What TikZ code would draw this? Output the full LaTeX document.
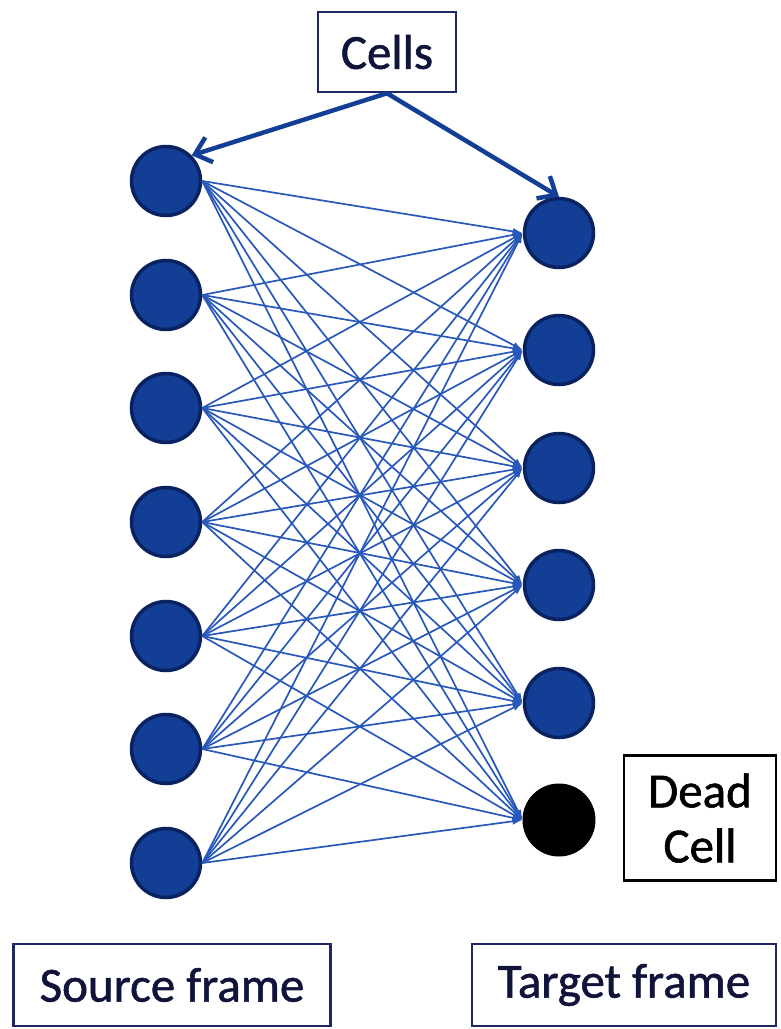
\documentclass[tikz,border=0pt]{standalone}
\usepackage{fontspec}
\setmainfont{Carlito}
\newfontface\lblfont{Carlito}[FakeBold=1.2]
\usepackage{tikz}
\usetikzlibrary{arrows.meta}
\usetikzlibrary{positioning}
\definecolor{cellblue}{RGB}{18,62,150}
\definecolor{celledge}{RGB}{10,34,95}
\definecolor{linkblue}{RGB}{40,88,185}
\definecolor{boxedge}{RGB}{30,40,100}
\definecolor{labeltext}{RGB}{16,20,58}
\tikzset{>=latex}
\tikzstyle{cell} = [circle, draw = celledge, fill = cellblue, line width = 3.5pt, minimum size = 69pt, inner sep = 0]
\tikzstyle{deadcell} = [circle, draw = black, fill = black, line width = 1pt, minimum size = 72pt, inner sep = 0]
\tikzstyle{lbl} = [rectangle, draw = boxedge, line width = 2.5pt, text = labeltext, font = \lblfont\fontsize{49}{55}\selectfont, align = center, inner sep = 0]
\tikzstyle{link} = [-{Latex[length = 10pt, width = 7pt]}, draw = linkblue, line width = 1.7pt]
\tikzstyle{point} = [-{Straight Barb[length = 15pt, width = 26pt, line width = 4.5pt]}, draw = cellblue, line width = 4.5pt]

\begin{document}
\begin{tikzpicture}[x = 1pt, y = -1pt]
\useasboundingbox (0, 0) rectangle (780, 1029);
% source frame cells
\foreach \i/\y in {1/181, 2/295, 3/408, 4/522, 5/636, 6/749, 7/863}
  \node [cell] (s\i) at (166, \y) {};
% target frame cells
\foreach \j/\y in {1/233, 2/350, 3/468, 4/585, 5/703}
  \node [cell] (t\j) at (559, \y) {};
\node [deadcell] (t6) at (559, 820) {};
% every source cell to every target cell
\foreach \i in {1,...,7}
  \foreach \j in {1,...,6}
    \draw [link] (s\i.east) -- (t\j.west);
% labels
\node [lbl, minimum width = 138pt, minimum height = 80pt] (cells) at (387, 52) {Cells};
\node [lbl, draw = black, text = black, minimum width = 152pt, minimum height = 125pt] (dead) at (700, 818) {Dead\\Cell};
\node [lbl, minimum width = 317pt, minimum height = 82pt] (source) at (172, 985) {Source frame};
\node [lbl, minimum width = 304pt, minimum height = 82pt] (target) at (624, 985) {Target frame};
\draw [point] (cells.south) -- (s1.north east);
\draw [point] (cells.south) -- (t1.north);
\end{tikzpicture}
\end{document}
